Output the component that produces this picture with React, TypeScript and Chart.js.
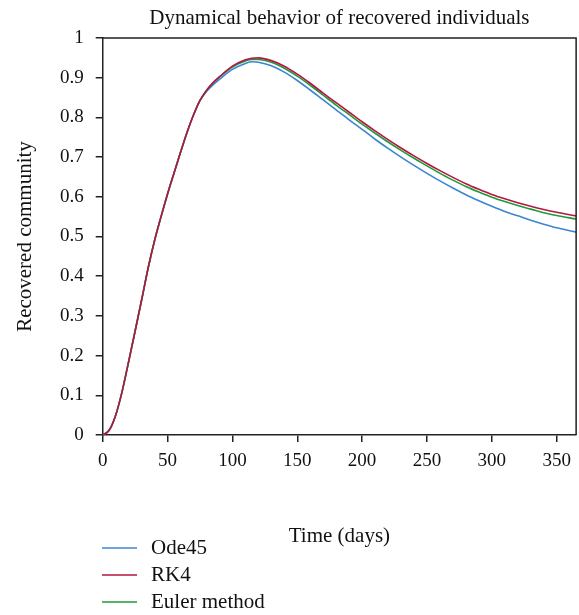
import React, { useEffect, useRef } from "react";
import { Chart, registerables } from "chart.js";

Chart.register(...registerables);

const TITLE = "Dynamical behavior of recovered individuals";
const X_TITLE = "Time (days)";
const Y_TITLE = "Recovered community";

const timeDays = [0, 5, 10, 15, 20, 25, 30, 35, 40, 45, 50, 55, 60, 65, 70, 75, 80, 85, 90, 100, 110, 115, 120, 130, 140, 150, 160, 170, 180, 190, 200, 210, 220, 230, 240, 250, 260, 270, 280, 290, 300, 310, 320, 330, 340, 350, 365];

const rk4 = [0, 0.012, 0.05, 0.11, 0.185, 0.262, 0.34, 0.42, 0.49, 0.55, 0.607, 0.66, 0.712, 0.762, 0.806, 0.843, 0.868, 0.887, 0.902, 0.929, 0.945, 0.949, 0.95, 0.943, 0.929, 0.909, 0.886, 0.861, 0.837, 0.813, 0.789, 0.766, 0.744, 0.723, 0.703, 0.684, 0.666, 0.649, 0.633, 0.619, 0.606, 0.595, 0.585, 0.576, 0.568, 0.561, 0.552];

const euler = [0, 0.012, 0.05, 0.11, 0.185, 0.262, 0.34, 0.42, 0.49, 0.55, 0.607, 0.66, 0.712, 0.762, 0.806, 0.843, 0.868, 0.887, 0.902, 0.927, 0.942, 0.946, 0.946, 0.939, 0.924, 0.904, 0.881, 0.856, 0.831, 0.807, 0.783, 0.76, 0.738, 0.717, 0.697, 0.678, 0.659, 0.642, 0.626, 0.612, 0.599, 0.588, 0.578, 0.569, 0.56, 0.553, 0.544];

const ode45 = [0, 0.012, 0.05, 0.11, 0.185, 0.262, 0.34, 0.42, 0.49, 0.55, 0.607, 0.66, 0.712, 0.762, 0.806, 0.842, 0.865, 0.882, 0.896, 0.921, 0.936, 0.94, 0.939, 0.93, 0.914, 0.893, 0.869, 0.844, 0.819, 0.794, 0.77, 0.745, 0.722, 0.7, 0.679, 0.659, 0.64, 0.622, 0.605, 0.59, 0.576, 0.563, 0.552, 0.541, 0.531, 0.522, 0.511];

const xTicks = [0, 50, 100, 150, 200, 250, 300, 350];
const yTicks = [0, 0.1, 0.2, 0.3, 0.4, 0.5, 0.6, 0.7, 0.8, 0.9, 1];
const yTickLabels = ["0", "0.1", "0.2", "0.3", "0.4", "0.5", "0.6", "0.7", "0.8", "0.9", "1"];

const seriesNames = ["Ode45", "RK4", "Euler method"];
const seriesColors = ["#3b86d1", "#b3173f", "#1f9a3a"];

const FONT = "'Liberation Serif', 'Times New Roman', serif";
const W = 579;
const H = 615;

export default function App() {
  const ref = useRef<HTMLCanvasElement | null>(null);

  useEffect(() => {
    const canvas = ref.current;
    if (!canvas) return;
    const toPts = (vals: number[]) => timeDays.map((t, i) => ({ x: t, y: vals[i] }));

    const overlay = {
      id: "overlay",
      afterDraw(chart: any) {
        const ctx = chart.ctx;
        const a = chart.chartArea;
        ctx.save();
        ctx.strokeStyle = "#222";
        ctx.lineWidth = 1.5;
        ctx.beginPath();
        ctx.moveTo(a.left, a.top);
        ctx.lineTo(a.right, a.top);
        ctx.lineTo(a.right, a.bottom);
        ctx.stroke();
        ctx.fillStyle = "#111";
        ctx.textAlign = "center";
        ctx.textBaseline = "middle";
        ctx.font = `21px ${FONT}`;
        ctx.fillText(TITLE, (a.left + a.right) / 2, 18);
        ctx.fillText(X_TITLE, (a.left + a.right) / 2, 536);
        ctx.save();
        ctx.translate(25, (a.top + a.bottom) / 2);
        ctx.rotate(-Math.PI / 2);
        ctx.fillText(Y_TITLE, 0, 0);
        ctx.restore();
        ctx.textAlign = "left";
        seriesNames.forEach((name, i) => {
          const y = 548 + i * 27;
          ctx.strokeStyle = seriesColors[i];
          ctx.lineWidth = 1.5;
          ctx.beginPath();
          ctx.moveTo(102, y);
          ctx.lineTo(137, y);
          ctx.stroke();
          ctx.fillStyle = "#111";
          ctx.fillText(name, 151, y);
        });
        ctx.restore();
      },
    };

    const chart = new Chart(canvas, {
      type: "line",
      data: {
        datasets: [
          { label: seriesNames[0], data: toPts(ode45), borderColor: seriesColors[0], order: 3 },
          { label: seriesNames[2], data: toPts(euler), borderColor: seriesColors[2], order: 2 },
          { label: seriesNames[1], data: toPts(rk4), borderColor: seriesColors[1], order: 1 },
        ].map((d) => ({
          ...d,
          borderWidth: 1.6,
          pointRadius: 0,
          fill: false,
          cubicInterpolationMode: "monotone" as const,
        })),
      },
      options: {
        responsive: false,
        animation: false,
        devicePixelRatio: 1,
        layout: { padding: { left: 0, right: 2, top: 38, bottom: 0 } },
        plugins: { legend: { display: false }, title: { display: false }, tooltip: { enabled: false } },
        scales: {
          x: {
            type: "linear",
            min: 0,
            max: 365,
            afterFit: (s: any) => { s.height = H - 435; },
            afterBuildTicks: (s: any) => { s.ticks = xTicks.map((v) => ({ value: v })); },
            grid: { drawOnChartArea: false, drawTicks: true, tickLength: 7, color: "#222", lineWidth: 1.5 },
            border: { display: true, color: "#222", width: 1.5 },
            ticks: { font: { family: FONT, size: 19 }, color: "#111", padding: 8, maxRotation: 0, callback: (v: any) => String(v) },
          },
          y: {
            type: "linear",
            min: 0,
            max: 1,
            afterFit: (s: any) => { s.width = 102.7; },
            afterBuildTicks: (s: any) => { s.ticks = yTicks.map((v) => ({ value: v })); },
            grid: { drawOnChartArea: false, drawTicks: true, tickLength: 7, color: "#222", lineWidth: 1.5 },
            border: { display: true, color: "#222", width: 1.5 },
            ticks: {
              font: { family: FONT, size: 19 },
              color: "#111",
              padding: 12,
              callback: (v: any) => {
                const i = yTicks.findIndex((t) => Math.abs(t - v) < 1e-9);
                return i >= 0 ? yTickLabels[i] : "";
              },
            },
          },
        },
      },
      plugins: [overlay],
    });
    return () => chart.destroy();
  }, []);

  return (
    <div style={{ position: "absolute", left: 0, top: 0, width: W, height: H, background: "#fff" }}>
      <canvas ref={ref} width={W} height={H} style={{ width: W, height: H, display: "block" }} />
    </div>
  );
}
